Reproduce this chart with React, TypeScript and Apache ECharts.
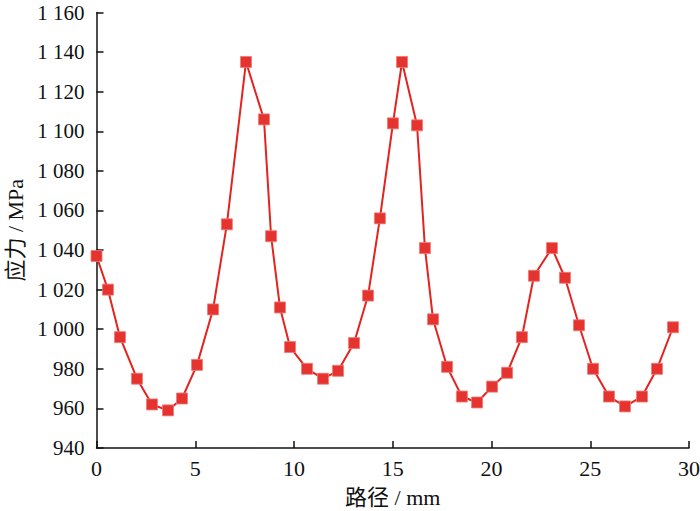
import React, { useEffect, useRef } from "react";
import * as echarts from "echarts";

const pathMm = [0, 0.58, 1.19, 2.05, 2.81, 3.62, 4.33, 5.09, 5.9, 6.6, 7.57, 8.48, 8.84, 9.29, 9.8, 10.66, 11.47, 12.23, 13.04, 13.75, 14.35, 15.01, 15.47, 16.23, 16.63, 17.04, 17.75, 18.5, 19.27, 20.03, 20.79, 21.54, 22.15, 23.06, 23.72, 24.43, 25.14, 25.95, 26.76, 27.62, 28.38, 29.19];
const stressMPa = [1037, 1020, 996, 975, 962, 959, 965, 982, 1010, 1053, 1135, 1106, 1047, 1011, 991, 980, 975, 979, 993, 1017, 1056, 1104, 1135, 1103, 1041, 1005, 981, 966, 963, 971, 978, 996, 1027, 1041, 1026, 1002, 980, 966, 961, 966, 980, 1001];

const fmtY = (v: number) => {
  const s = String(Math.round(v));
  return s.length > 3 ? s.slice(0, s.length - 3) + " " + s.slice(-3) : s;
};

const FONT = "'Liberation Serif', 'Noto Sans CJK SC', serif";

export default function App() {
  const ref = useRef<HTMLDivElement>(null);
  useEffect(() => {
    const chart = echarts.init(ref.current!, null, { renderer: "svg" });
    chart.setOption({
      animation: false,
      backgroundColor: "#fff",
      grid: { left: 96.5, right: 11, top: 12.5, bottom: 63, containLabel: false, outerBoundsMode: "none" },
      xAxis: {
        type: "value",
        min: 0,
        max: 30,
        interval: 5,
        name: "路径 / mm",
        nameLocation: "middle",
        nameGap: 38,
        nameTextStyle: { fontFamily: FONT, fontSize: 22, color: "#111" },
        axisLine: { lineStyle: { color: "#111", width: 1.5 } },
        axisTick: { inside: true, length: 7, lineStyle: { color: "#111", width: 1.5 } },
        axisLabel: { fontFamily: FONT, fontSize: 22, color: "#111", margin: 9 },
        splitLine: { show: false },
      },
      yAxis: {
        type: "value",
        min: 940,
        max: 1160,
        interval: 20,
        name: "应力 / MPa",
        nameLocation: "middle",
        nameGap: 66,
        nameRotate: 90,
        nameTextStyle: { fontFamily: FONT, fontSize: 22, color: "#111" },
        axisLine: { show: true, lineStyle: { color: "#111", width: 1.5 } },
        axisTick: { show: true, inside: true, length: 7, lineStyle: { color: "#111", width: 1.5 } },
        axisLabel: { fontFamily: FONT, fontSize: 21, color: "#111", margin: 12, formatter: fmtY },
        splitLine: { show: false },
      },
      series: [
        {
          type: "line",
          data: pathMm.map((x, i) => [x, stressMPa[i]]),
          symbol: "rect",
          symbolSize: 11,
          showAllSymbol: true,
          lineStyle: { color: "#e4231f", width: 2 },
          itemStyle: { color: "#e53430", borderColor: "#f07a76", borderWidth: 0.8 },
        },
      ],
    });
    return () => chart.dispose();
  }, []);
  return <div ref={ref} style={{ width: 700, height: 511, position: "absolute", left: 0, top: 0 }} />;
}
